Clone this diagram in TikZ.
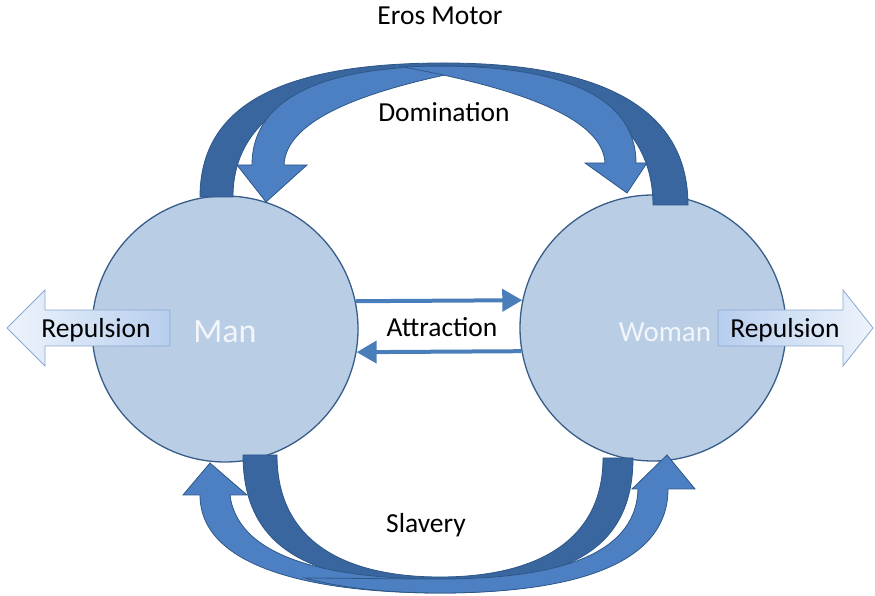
\documentclass[tikz,border=0pt]{standalone}
\usepackage{fontspec}
\setmainfont{Carlito}
\usetikzlibrary{arrows.meta,positioning,calc}

\definecolor{circfill}{HTML}{B9CDE5}
\definecolor{circline}{HTML}{385D8A}
\definecolor{bandback}{HTML}{3A66A0}
\definecolor{bandfront}{HTML}{4D80C2}
\definecolor{bandline}{HTML}{2E5788}
\definecolor{linkblue}{HTML}{4A7EBB}
\definecolor{replline}{HTML}{8BA7D3}
\definecolor{replpale}{HTML}{EEF4FC}
\definecolor{replblue}{HTML}{B7CEEE}
\definecolor{whotext}{HTML}{F2F6FB}

\begin{document}
\begin{tikzpicture}[
  x=1pt, y=1pt,
  person/.style={circle, draw=circline, line width=1.3pt, fill=circfill,
                 minimum size=266pt, inner sep=0pt},
  who/.style={text=whotext, anchor=base, inner sep=0pt},
  lbl/.style={anchor=base, inner sep=0pt, font=\fontsize{27.5}{32}\selectfont},
  back/.style={fill=bandback, draw=bandline, line width=0.8pt},
  front/.style={fill=bandfront, draw=bandline, line width=0.8pt},
  link/.style={draw=linkblue, line width=4pt, -{Triangle[length=20pt,width=22pt]}},
  replbox/.style={draw=replline, line width=0.8pt}
]
\useasboundingbox (0,0) rectangle (875,596);

% =======================================================
%                     PEOPLE
% =======================================================
\node[person] (man) at (225,267) {};
\node[person] (woman) at (653,268) {};
\node[who, font=\fontsize{34}{40}\selectfont] (mantxt) at (225,253) {Man};
\node[who, font=\fontsize{29}{34}\selectfont] (womantxt) at (665,254) {Woman};

% =======================================================
%                     EROS MOTOR (top)
% =======================================================
% back of the ribbon
\path[back] (200,399) .. controls (200,489) and (278,533) .. (444,533)
  .. controls (605,533) and (688,486) .. (688,391)
  -- (653,391) .. controls (653,476) and (580,523) .. (444,524)
  .. controls (310,523) and (233,481) .. (233,399) -- cycle;

% Domination -> Man
\path[front] (485,529) .. controls (330,536) and (252,501) .. (252,431)
  -- (237,431) -- (266,394) -- (307,431) -- (284,431)
  .. controls (286,478) and (370,508) .. (485,529) -- cycle;

% Domination -> Woman
\path[front] (403,529) .. controls (558,536) and (636,501) .. (636,433)
  -- (647,433) -- (627,403) -- (585,433) -- (605,433)
  .. controls (603,478) and (518,508) .. (403,529) -- cycle;

% =======================================================
%                     SLAVERY (bottom)
% =======================================================
\path[back] (243,141) .. controls (243,41) and (320,13) .. (440,13)
  .. controls (560,13) and (633,41) .. (633,138)
  -- (603,138) .. controls (603,51) and (530,19) .. (440,19)
  .. controls (350,19) and (277,51) .. (277,141) -- cycle;

% Slavery -> Man
\path[front] (575,18) .. controls (540,8) and (490,3) .. (440,3)
  .. controls (320,3) and (200,26) .. (200,101)
  -- (183,101) -- (210,133) -- (247,101) -- (230,101)
  .. controls (238,36) and (335,17) .. (440,17)
  .. controls (495,17) and (540,18) .. (575,18) -- cycle;

% Slavery -> Woman
\path[front] (305,18) .. controls (340,8) and (390,3) .. (440,3)
  .. controls (560,3) and (668,26) .. (668,107)
  -- (695,107) -- (667,141) -- (632,107) -- (638,107)
  .. controls (636,36) and (545,17) .. (440,17)
  .. controls (385,17) and (340,18) .. (305,18) -- cycle;

% =======================================================
%                     ATTRACTION / REPULSION
% =======================================================
\draw[link] (man.12) -- (woman.168);
\draw[link] (woman.190) -- (man.-10);

\path[replbox, left color=replpale, right color=replblue]
  (7,268) -- (45,306) -- (45,286) -- (170,286) -- (170,250) -- (45,250) -- (45,230) -- cycle;
\path[replbox, left color=replblue, right color=replpale]
  (873,268) -- (843,306) -- (843,286) -- (718,286) -- (718,250) -- (843,250) -- (843,230) -- cycle;

% =======================================================
%                     LABELS
% =======================================================
\node[lbl] (eros) at (440,571) {Eros Motor};
\node[lbl] (domination) at (444,474) {Domination};
\node[lbl] (attraction) at (442,259) {Attraction};
\node[lbl] (slavery) at (426,63) {Slavery};
\node[lbl] (replL) at (96,258) {Repulsion};
\node[lbl] (replR) at (785,258) {Repulsion};

\end{tikzpicture}
\end{document}
